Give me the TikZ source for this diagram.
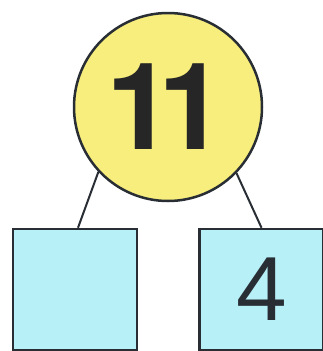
\documentclass[tikz,border=0pt]{standalone}
\usepackage{fontspec}
\setmainfont{Liberation Sans}
\newfontfamily\heavyfont{TeX Gyre Heros}
\definecolor{bondyellow}{RGB}{248,238,126}
\definecolor{bondcyan}{RGB}{184,240,248}
\definecolor{bondink}{RGB}{40,46,52}

\begin{document}
\begin{tikzpicture}[x=1pt,y=-1pt,
    whole/.style={circle,draw=bondink,line width=2.5pt,fill=bondyellow,
      minimum size=188pt,inner sep=0pt,text=black!85,
      font=\fontsize{121}{121}\heavyfont\bfseries},
    part/.style={rectangle,draw=bondink,line width=2.5pt,fill=bondcyan,
      minimum width=124pt,minimum height=121pt,inner sep=0pt,text=bondink,
      font=\fontsize{91}{91}\selectfont},
    bond/.style={draw=bondink,line width=2pt}]
    \useasboundingbox (0,0) rectangle (322,351);
    % Whole and parts
    \node[whole] (total) at (168,107) {1\kern-16pt1\kern4pt};
    \node[part] (lefthalf) at (75,289.5) {};
    \node[part] (righthalf) at (261.5,289.5) {4};
    % Bonds
    \draw[bond] (total.223) -- ([xshift=3pt]lefthalf.north);
    \draw[bond] (total.316) -- (righthalf.north);
  \end{tikzpicture}
\end{document}
